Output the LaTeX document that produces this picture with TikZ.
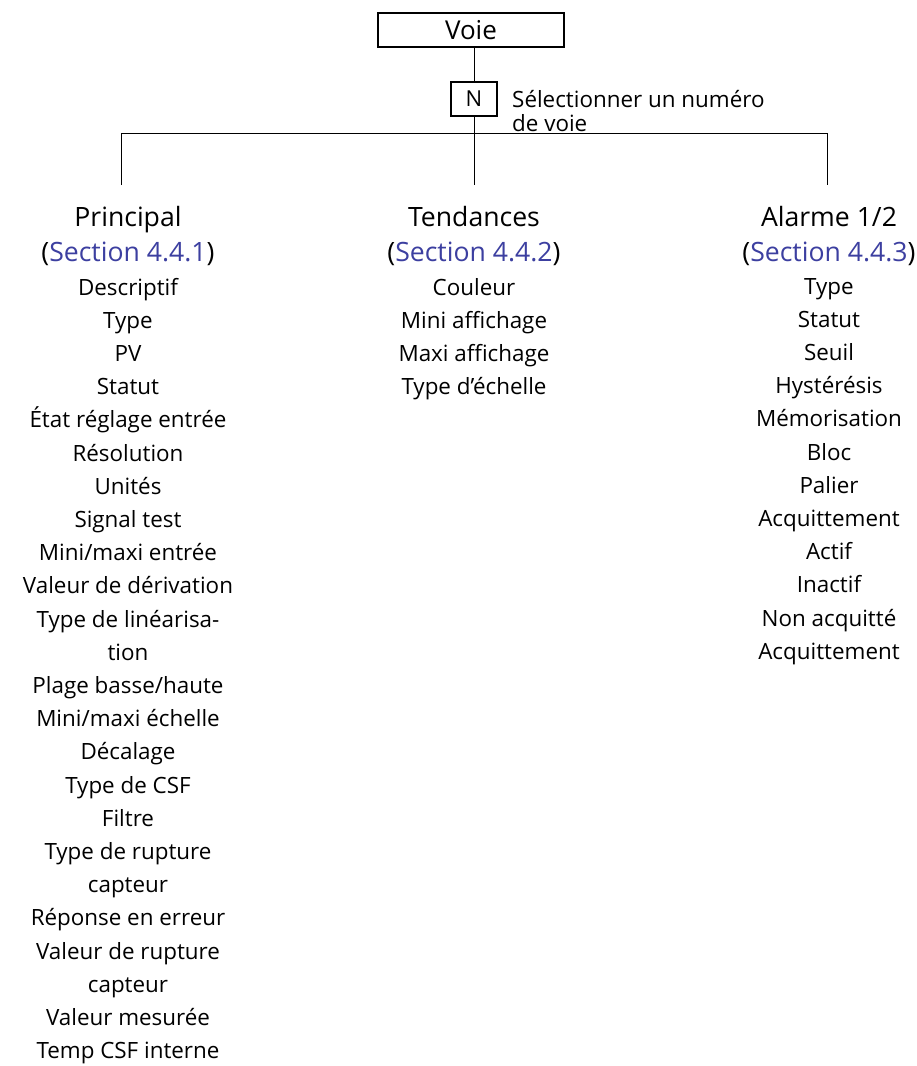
\documentclass[tikz,border=0pt]{standalone}
\usepackage{fontspec}
\setmainfont{Open Sans}[Ligatures=NoCommon]
\usetikzlibrary{positioning}
\definecolor{linkblue}{HTML}{3C3FA0}

\tikzset{
  menubox/.style={draw, line width=2.5pt, inner sep=0pt, font=\fontsize{22}{24}\selectfont},
  heading/.style={align=center, inner sep=0pt, anchor=north, font=\fontsize{26.6}{35}\selectfont},
  itemlist/.style={align=center, inner sep=0pt, font=\fontsize{22.4}{33.2}\selectfont},
  wire/.style={line width=1pt},
}
\newcommand{\secref}[1]{(\textcolor{linkblue}{Section #1})}

\begin{document}
\begin{tikzpicture}[x=1pt, y=1pt, node distance=12pt]
\useasboundingbox (0,0) rectangle (917,-1066);

% channel menu and number selector
\node[menubox, minimum width=186pt, minimum height=34pt, font=\fontsize{26}{28}\selectfont] (voie) at (471,-30) {Voie};
\node[menubox, minimum width=46pt, minimum height=34pt] (nsel) at (474,-99) {N};
\node[anchor=base west, align=left, inner sep=0pt, font=\fontsize{22.4}{24}\selectfont] (hint) at (512,-131) {Sélectionner un numéro\\de voie};

% branch ends
\coordinate (legP) at (121,-185);
\coordinate (legT) at (474,-185);
\coordinate (legA) at (827,-185);

\draw[wire] (voie.south -| nsel) -- (nsel);
\draw[wire] (nsel) -- (legT);
\draw[wire] (legP) -- ++(0,52) -| (legA);

% sub-menus
\node[heading] (princ) at (128,-206) {Principal\\\secref{4.4.1}};
\node[heading] (tend) at (474,-206) {Tendances\\\secref{4.4.2}};
\node[heading] (alarm) at (829,-206) {Alarme 1/2\\\secref{4.4.3}};

\node[itemlist, below=of princ] (princlist) {Descriptif\\Type\\PV\\Statut\\État réglage entrée\\Résolution\\Unités\\Signal test\\Mini/maxi entrée\\Valeur de dérivation\\Type de linéarisa-\\tion\\Plage basse/haute\\Mini/maxi échelle\\Décalage\\Type de CSF\\Filtre\\Type de rupture\\capteur\\Réponse en erreur\\Valeur de rupture\\capteur\\Valeur mesurée\\Temp CSF interne};
\node[itemlist, below=of tend] (tendlist) {Couleur\\Mini affichage\\Maxi affichage\\Type d’échelle};
\node[itemlist, below=of alarm] (alarmlist) {Type\\Statut\\Seuil\\Hystérésis\\Mémorisation\\Bloc\\Palier\\Acquittement\\Actif\\Inactif\\Non acquitté\\Acquittement};
\end{tikzpicture}
\end{document}
